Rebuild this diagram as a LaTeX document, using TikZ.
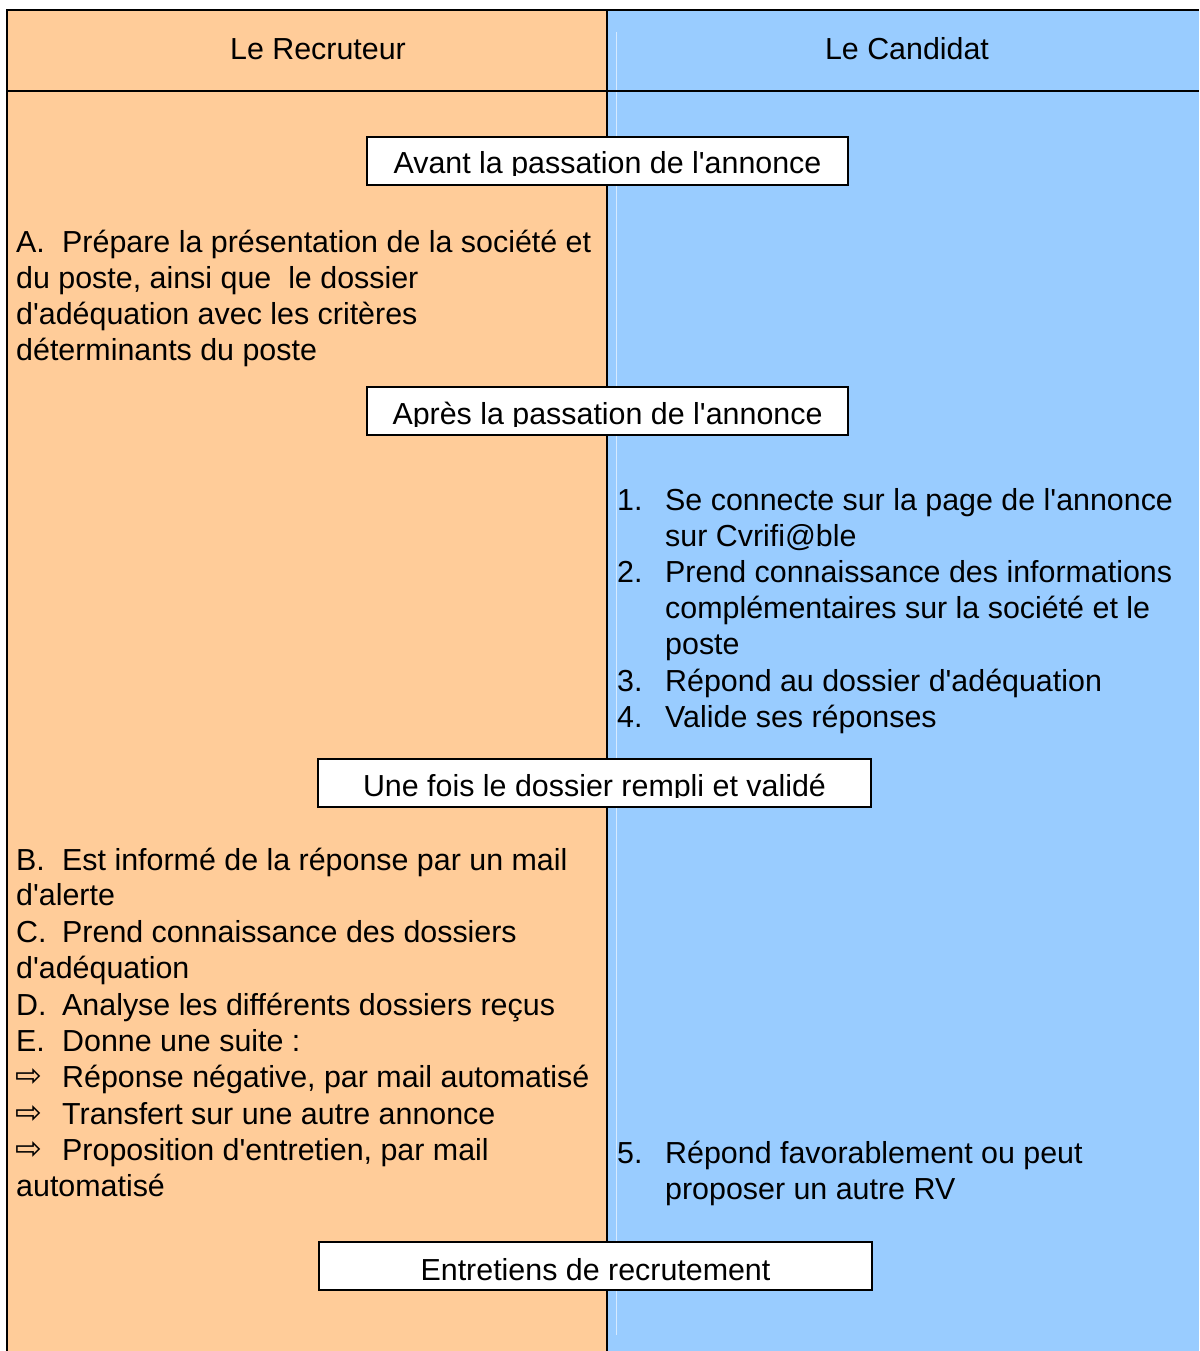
\documentclass[tikz,border=0pt]{standalone}
\usepackage{fontspec}
\setmainfont{Liberation Sans}
\newfontfamily\arrowfont{DejaVu Sans}
\newcommand\qs{\textquotesingle}
\definecolor{recr}{HTML}{FFCC99}
\definecolor{cand}{HTML}{99CCFF}
\begin{document}
\begin{tikzpicture}[x=1pt,y=-1pt,
  txt/.style={anchor=base west, inner sep=0pt, font=\fontsize{30.4}{36}\selectfont},
  ctxt/.style={anchor=base, inner sep=0pt, font=\fontsize{30.4}{36}\selectfont},
  arr/.style={anchor=base west, inner sep=0pt, font=\arrowfont\fontsize{32}{36}\selectfont},
  stagebox/.style={draw=black, line width=2pt, fill=white, inner sep=0pt},
  frame/.style={draw=black, line width=2.5pt}]
\useasboundingbox (0,0) rectangle (1199,1351);
% backgrounds
\fill[recr] (7,10) rectangle (607,1351);
\fill[cand] (607,10) rectangle (1199,1351);
\draw[white, opacity=0.6, line width=0.8pt] (616,32) -- (616,1335);
% frame
\coordinate (tl) at (7,10);
\coordinate (tr) at (1199,10);
\coordinate (bl) at (7,1351);
\coordinate (dt) at (607,10);
\coordinate (db) at (607,1351);
\coordinate (hl) at (7,91);
\coordinate (hr) at (1199,91);
\draw[frame] (bl) -- (tl) -- (tr);
\draw[frame] (dt) -- (db);
\draw[frame] (hl) -- (hr);
% headers
\node[ctxt] (h1) at (318,60) {Le Recruteur};
\node[ctxt] (h2) at (907,60) {Le Candidat};

% stage 1
\node[stagebox, minimum width=481pt, minimum height=48pt] (s1) at (607.5,161) {};
\begin{scope}
\clip (369,139) rectangle (846,176);
\node[ctxt] (s1t) at (607.5,174) {Avant la passation de l\qs annonce};
\end{scope}

% A
\node[txt] (a0) at (16,252) {A.};
\node[txt] (a1) at (62,252) {Prépare la présentation de la société et};
\node[txt] (a2) at (16,288) {du poste, ainsi que \ le dossier};
\node[txt] (a3) at (16,324) {d\qs adéquation avec les critères};
\node[txt] (a4) at (16,360) {déterminants du poste};

% stage 2
\node[stagebox, minimum width=481pt, minimum height=48pt] (s2) at (607.5,411) {};
\begin{scope}
\clip (369,389) rectangle (846,426);
\node[ctxt] (s2t) at (607.5,424) {Après la passation de l\qs annonce};
\end{scope}

% 1-4
\node[txt] (n1) at (617,510) {1.};
\node[txt] (n1a) at (665,510) {Se connecte sur la page de l\qs annonce};
\node[txt] (n1b) at (665,546) {sur Cvrifi@ble};
\node[txt] (n2) at (617,582) {2.};
\node[txt] (n2a) at (665,582) {Prend connaissance des informations};
\node[txt] (n2b) at (665,618) {complémentaires sur la société et le};
\node[txt] (n2c) at (665,654) {poste};
\node[txt] (n3) at (617,691) {3.};
\node[txt] (n3a) at (665,691) {Répond au dossier d\qs adéquation};
\node[txt] (n4) at (617,727) {4.};
\node[txt] (n4a) at (665,727) {Valide ses réponses};

% stage 3
\node[stagebox, minimum width=553pt, minimum height=48pt] (s3) at (594.5,783) {};
\begin{scope}
\clip (320,761) rectangle (869,797);
\node[ctxt] (s3t) at (594.5,796) {Une fois le dossier rempli et validé};
\end{scope}

% B-E
\node[txt] (b0) at (16,870) {B.};
\node[txt] (b1) at (62,870) {Est informé de la réponse par un mail};
\node[txt] (b2) at (16,905) {d\qs alerte};
\node[txt] (c0) at (16,942) {C.};
\node[txt] (c1) at (62,942) {Prend connaissance des dossiers};
\node[txt] (c2) at (16,978) {d\qs adéquation};
\node[txt] (d0) at (16,1015) {D.};
\node[txt] (d1) at (62,1015) {Analyse les différents dossiers reçus};
\node[txt] (e0) at (16,1051) {E.};
\node[txt] (e1) at (62,1051) {Donne une suite :};
\node[arr] (f0) at (15,1086) {⇨};
\node[txt] (f1) at (62,1087) {Réponse négative, par mail automatisé};
\node[arr] (g0) at (15,1123) {⇨};
\node[txt] (g1) at (62,1124) {Transfert sur une autre annonce};
\node[arr] (k0) at (15,1159) {⇨};
\node[txt] (k1) at (62,1160) {Proposition d\qs entretien, par mail};
\node[txt] (k2) at (16,1196) {automatisé};

% 5
\node[txt] (n5) at (617,1163) {5.};
\node[txt] (n5a) at (665,1163) {Répond favorablement ou peut};
\node[txt] (n5b) at (665,1199) {proposer un autre RV};

% stage 4
\node[stagebox, minimum width=553pt, minimum height=48pt] (s4) at (595.5,1266) {};
\node[ctxt] (s4t) at (595.5,1280) {Entretiens de recrutement};
\end{tikzpicture}
\end{document}
